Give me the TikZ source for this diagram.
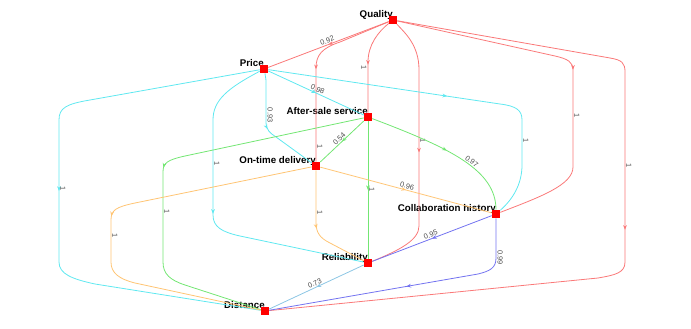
\documentclass[tikz,border=0pt]{standalone}
\usepackage{fontspec}
\setmainfont{Liberation Sans}
\usetikzlibrary{arrows.meta,decorations.markings}

\definecolor{redE}{RGB}{250,120,120}
\definecolor{cyanE}{RGB}{95,232,240}
\definecolor{greenE}{RGB}{115,230,115}
\definecolor{orangeE}{RGB}{255,196,115}
\definecolor{blueE}{RGB}{115,115,240}
\definecolor{skyE}{RGB}{140,198,228}

\begin{document}
\begin{tikzpicture}[
    x=0.75pt, y=-0.75pt,
    vert/.style={fill=red, minimum size=6pt, inner sep=0pt},
    vlbl/.style={font=\fontsize{7.3}{8}\selectfont\bfseries, anchor=base east, inner sep=0pt},
    elbl/.style={font=\fontsize{5.5}{6}\selectfont, text=black!70, inner sep=0.8pt},
    edge/.style={line width=0.6pt, postaction={decorate},
        decoration={markings, mark=at position 0.5 with {\arrow{Stealth[length=3.5pt, width=2.8pt]}}}}
]

    \useasboundingbox (0,0) rectangle (691,328);

    % Vertices
    \foreach \name/\x/\y/\txt in {Q/393/20/Quality, P/264/69/Price, A/368/117/After-sale service,
        O/316/166/On-time delivery, C/496/214/Collaboration history, R/368/263/Reliability, D/265/311/Distance} {
        \node[vert] (\name) at (\x,\y) {};
        \node[vlbl] (\name-t) at ([yshift=1.6pt]\name.center) {\txt};
    }

    % Edges from Quality
    \draw[edge, redE] (Q) -- node[elbl, sloped, above] {0.92} (P);
    \draw[edge, redE] (Q) -- (340,42) .. controls (322,48) and (316,55) .. (316,68)
        -- node[elbl, rotate=-90, above, pos=0.84] {1} (O);
    \draw[edge, redE] (Q) .. controls (378,32) and (368,45) .. (368,62)
        -- node[elbl, rotate=-90, below, pos=0.1] {1} (A);
    \draw[edge, redE] (Q) .. controls (405,33) and (419,45) .. (419,70)
        -- node[elbl, rotate=-90, above, pos=0.45] {1} (419,226) .. controls (419,240) and (400,250) .. (R);
    \draw[edge, redE] (Q) -- (555,56) .. controls (568,59) and (573,62) .. (573,70)
        -- node[elbl, rotate=-90, above, pos=0.47] {1} (573,167) .. controls (573,185) and (540,197) .. (C);
    \draw[edge, redE] (Q) -- (610,58) .. controls (622,60) and (625,63) .. (625,72)
        -- node[elbl, rotate=-90, above, pos=0.49] {1} (625,262) .. controls (625,273) and (615,275) .. (598,278) -- (D);

    % Edges from Price
    \draw[edge, cyanE] (P) -- (90,100) .. controls (66,104) and (59,108) .. (59,120)
        -- node[elbl, rotate=-90, above, pos=0.48] {1} (59,262) .. controls (59,274) and (72,279) .. (95,284) -- (D);
    \draw[edge, cyanE] (P) .. controls (228,88) and (213,100) .. (213,120)
        -- node[elbl, rotate=-90, above, pos=0.46] {1} (213,215) .. controls (213,227) and (222,232) .. (240,236) -- (R);
    \draw[edge, cyanE] (P) .. controls (266,78) .. (266,92)
        -- node[elbl, rotate=-90, above, pos=0.77] {0.93} (266,122) .. controls (266,130) and (270,133) .. (276,137) -- (O);
    \draw[edge, cyanE] (P) -- node[elbl, sloped, above] {0.98} (A);
    \draw[edge, cyanE] (P) -- (500,104) .. controls (516,106) and (522,110) .. (522,120)
        -- node[elbl, rotate=-90, above, pos=0.45] {1} (522,165) .. controls (522,185) and (512,200) .. (C);

    % Edges from After-sale service
    \draw[edge, greenE] (A) -- node[elbl, sloped, above] {0.54} (O);
    \draw[edge, greenE] (A) -- node[elbl, rotate=-90, above] {1} (R);
    \draw[edge, greenE] (A) .. controls (450,148) and (496,170) .. node[elbl, sloped, above, pos=0.55] {0.97} (C);
    \draw[edge, greenE] (A) -- (185,156) .. controls (167,160) and (163,163) .. (163,172)
        -- node[elbl, rotate=-90, above, pos=0.44] {1} (163,262) .. controls (163,274) and (170,280) .. (185,285) -- (D);

    % Edges from On-time delivery
    \draw[edge, orangeE] (O) -- node[elbl, sloped, above] {0.96} (C);
    \draw[edge, orangeE] (O) -- node[elbl, rotate=-90, above, pos=0.81] {1} (316,222)
        .. controls (316,233) and (320,238) .. (330,243) -- (R);
    \draw[edge, orangeE] (O) -- (135,203) .. controls (116,207) and (111,210) .. (111,220)
        -- node[elbl, rotate=-90, above, pos=0.38] {1} (111,262) .. controls (111,273) and (119,279) .. (135,283) -- (D);

    % Edges from Collaboration history
    \draw[edge, blueE] (C) -- node[elbl, sloped, above] {0.95} (R);
    \draw[edge, blueE] (C) -- node[elbl, rotate=-90, above, pos=0.98] {0.99} (496,258)
        .. controls (496,268) and (490,271) .. (478,274) -- (D);

    % Edge from Reliability
    \draw[edge, skyE] (R) -- node[elbl, sloped, above] {0.73} (D);

    % Vertices on top
    \foreach \name in {Q,P,A,O,C,R,D} {
        \fill[red] (\name.south west) rectangle (\name.north east);
    }

\end{tikzpicture}
\end{document}
